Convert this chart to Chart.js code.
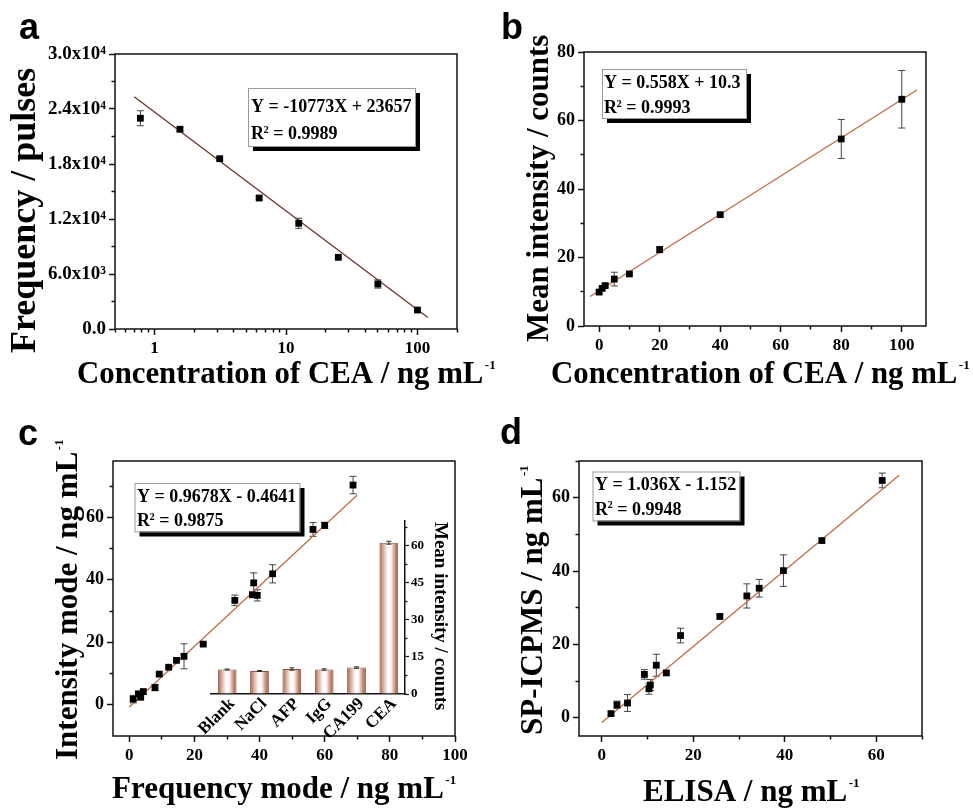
<!DOCTYPE html>
<html lang="en">
<head>
<meta charset="UTF-8" />
<title>SP-ICPMS CEA assay</title>
<script src="https://cdn.jsdelivr.net/npm/chart.js"></script>
<style>
  body { margin: 0; background: #fff; }
  #wrap { position: relative; width: 973px; height: 810px; overflow: hidden; }
  #wrap canvas { position: absolute; left: 0; top: 0; }
</style>
</head>
<body>
<div id="wrap">
  <canvas id="chartA" width="973" height="810"></canvas>
  <canvas id="chartB" width="973" height="810"></canvas>
  <canvas id="chartC" width="973" height="810"></canvas>
  <canvas id="chartInset" width="973" height="810"></canvas>
  <canvas id="chartD" width="973" height="810"></canvas>
</div>
<script>
const W = 973, H = 810;
const SERIF = '"Liberation Serif", "Times New Roman", serif';
const SANS = '"Liberation Sans", Arial, sans-serif';

// panel a - frequency vs CEA concentration (log axis)
const aConc = [0.78, 1.56, 3.13, 6.25, 12.5, 25, 50, 100];
const aFreq = [22990, 21790, 18580, 14290, 11530, 7820, 4910, 2070];
const aErr = [820, 200, 150, 150, 550, 120, 450, 120];
const aFitX = [0.7, 120];
const aFitY = [25330, 1250];
const aXTicks = [1, 10, 100];
const aXLabels = ['1', '10', '100'];
const aXMinor = [0.5, 0.6, 0.7, 0.8, 0.9, 2, 3, 4, 5, 6, 7, 8, 9, 20, 30, 40, 50, 60, 70, 80, 90, 200];
const aYTicks = [0, 6000, 12000, 18000, 24000, 30000];
const aYLabels = ['0.0', '6.0x10³', '1.2x10⁴', '1.8x10⁴', '2.4x10⁴', '3.0x10⁴'];
const aYMinor = [3000, 9000, 15000, 21000, 27000];

// panel b - mean intensity vs CEA concentration
const bConc = [0, 1, 2, 5, 10, 20, 40, 80, 100];
const bInt = [9.9, 11.0, 11.8, 13.7, 15.2, 22.3, 32.5, 54.6, 66.2];
const bErr = [0.5, 0.5, 0.5, 2.0, 0.4, 0.9, 0.4, 5.7, 8.4];
const bFitX = [-3, 105];
const bFitY = [8.6, 68.9];
const bXTicks = [0, 20, 40, 60, 80, 100];
const bXMinor = [10, 30, 50, 70, 90];
const bYTicks = [0, 20, 40, 60, 80];
const bYMinor = [10, 30, 50, 70];

// panel c - intensity mode vs frequency mode
const cFreq = [1.2, 2.8, 3.5, 4.3, 7.9, 9.2, 12.1, 14.5, 16.8, 22.7, 32.4, 37.8, 38.2, 39.3, 44.0, 56.4, 60.0, 68.7];
const cInt = [1.8, 3.5, 2.4, 4.2, 5.5, 9.8, 12.0, 14.2, 15.5, 19.4, 33.4, 35.2, 39.0, 35.0, 41.9, 56.1, 57.4, 70.3];
const cErr = [1.2, 0.5, 0.5, 0.8, 1.0, 0.4, 0.4, 0.4, 4.0, 0.4, 1.7, 0.8, 3.2, 1.8, 2.9, 2.2, 1.0, 2.8];
const cFitX = [0, 70];
const cFitY = [-0.75, 67.1];
const cXTicks = [0, 20, 40, 60, 80, 100];
const cXMinor = [10, 30, 50, 70, 90];
const cYTicks = [0, 20, 40, 60];
const cYMinor = [10, 30, 50, 70];

// panel c inset - selectivity
const insetLabels = ['Blank', 'NaCl', 'AFP', 'IgG', 'CA199', 'CEA'];
const insetVals = [9.9, 9.3, 10.1, 9.9, 10.7, 61.2];
const insetErr = [0.2, 0.2, 0.5, 0.3, 0.3, 0.6];
const insetTicks = [0, 15, 30, 45, 60];
const insetMinor = [7.5, 22.5, 37.5, 52.5, 67.5];

// panel d - SP-ICPMS vs ELISA
const dEli = [2.0, 3.3, 5.6, 9.3, 10.3, 10.6, 11.9, 14.1, 17.2, 25.8, 31.7, 34.4, 39.7, 48.1, 61.3];
const dSp = [1.1, 3.5, 4.0, 11.8, 7.9, 8.9, 14.3, 12.2, 22.4, 27.6, 33.2, 35.3, 40.1, 48.3, 64.7];
const dErr = [0.5, 1.0, 2.3, 1.3, 1.5, 1.5, 3.0, 0.5, 2.0, 0.5, 3.3, 2.4, 4.3, 0.5, 2.0];
const dFitX = [0, 65];
const dFitY = [-1.3, 66.1];
const dXTicks = [0, 20, 40, 60];
const dXMinor = [10, 30, 50, 70];
const dYTicks = [0, 20, 40, 60];
const dYMinor = [10, 30, 50, 70];

function pairs(xs, ys) { return xs.map((x, i) => ({ x: x, y: ys[i] })); }

// text with ^superscript parts
function drawRich(ctx, it) {
  const fam = it.family || SERIF;
  const gap = it.gap === undefined ? 1.5 : it.gap;
  const segs = it.parts.map(s => {
    const sup = s[0] === '^';
    const size = sup ? it.size * (it.supScale || 0.42) : it.size;
    return { t: sup ? s.slice(1) : s, font: 'bold ' + size + 'px ' + fam, rise: sup ? it.size * (it.rise || 0.44) : 0, gap: sup ? gap : 0 };
  });
  ctx.save();
  ctx.translate(it.x, it.y);
  if (it.rot) ctx.rotate(it.rot);
  ctx.fillStyle = '#000';
  ctx.textBaseline = 'alphabetic';
  ctx.textAlign = 'left';
  let total = 0;
  segs.forEach(s => { ctx.font = s.font; s.w = ctx.measureText(s.t).width + s.gap; total += s.w; });
  let cx = it.align === 'center' ? -total / 2 : 0;
  segs.forEach(s => { ctx.font = s.font; ctx.fillText(s.t, cx + s.gap, -s.rise); cx += s.w; });
  ctx.restore();
}

const errPlugin = {
  id: 'errbars',
  draw(chart, o) {
    const ctx = chart.ctx, sx = chart.scales.x, sy = chart.scales.y;
    ctx.save();
    ctx.strokeStyle = o.color;
    ctx.lineWidth = 1;
    for (let i = 0; i < o.x.length; i++) {
      const px = sx.getPixelForValue(o.x[i]);
      const y1 = sy.getPixelForValue(o.y[i] - o.err[i]);
      const y2 = sy.getPixelForValue(o.y[i] + o.err[i]);
      ctx.beginPath();
      ctx.moveTo(px, y1); ctx.lineTo(px, y2);
      ctx.moveTo(px - o.cap, y1); ctx.lineTo(px + o.cap, y1);
      ctx.moveTo(px - o.cap, y2); ctx.lineTo(px + o.cap, y2);
      ctx.stroke();
    }
    ctx.restore();
  },
  beforeDatasetsDraw(chart, args, o) { if (!o.after) this.draw(chart, o); },
  afterDatasetsDraw(chart, args, o) { if (o.after) this.draw(chart, o); }
};

const decorPlugin = {
  id: 'decor',
  afterDraw(chart, args, o) {
    const ctx = chart.ctx, ca = chart.chartArea;
    ctx.save();
    if (o.frame) {
      ctx.strokeStyle = '#111';
      ctx.lineWidth = 1.5;
      ctx.strokeRect(ca.left, ca.top, ca.right - ca.left, ca.bottom - ca.top);
    }
    (o.boxes || []).forEach(b => {
      ctx.fillStyle = '#000';
      ctx.fillRect(b.x + 5, b.y + 5, b.w, b.h);
      ctx.fillStyle = '#fff';
      ctx.fillRect(b.x, b.y, b.w, b.h);
      ctx.strokeStyle = '#9a9a9a';
      ctx.lineWidth = 1;
      ctx.strokeRect(b.x + 0.5, b.y + 0.5, b.w, b.h);
    });
    ctx.restore();
    (o.texts || []).forEach(t => drawRich(ctx, t));
  }
};

function majorScale(axis, s, pos, fixed) {
  return {
    type: s.type || 'linear', axis: axis, position: pos, min: s.min, max: s.max, weight: 1,
    afterBuildTicks: sc => { sc.ticks = s.major.map(v => ({ value: v })); },
    afterFit: sc => { if (axis === 'x') sc.height = fixed; else sc.width = fixed; },
    ticks: {
      autoSkip: false, maxRotation: 0, minRotation: 0, padding: 3, color: '#000',
      font: { family: SERIF, weight: 'bold', size: s.font },
      callback: (v, i) => s.labels[i]
    },
    grid: { drawOnChartArea: false, tickLength: 6, tickWidth: 1.5, tickColor: '#111' },
    border: { display: false }
  };
}

function minorScale(axis, s, pos) {
  return {
    type: s.type || 'linear', axis: axis, position: pos, min: s.min, max: s.max, weight: 0,
    afterBuildTicks: sc => { sc.ticks = s.minor.map(v => ({ value: v })); },
    afterFit: sc => { if (axis === 'x') sc.height = 0; else sc.width = 0; },
    ticks: { display: false },
    grid: { drawOnChartArea: false, tickLength: 3.5, tickWidth: 1.5, tickColor: '#111' },
    border: { display: false }
  };
}

function scatterPanel(id, p) {
  const wy = 80, hx = 44;
  return new Chart(document.getElementById(id), {
    type: 'scatter',
    data: {
      datasets: [
        { data: p.fit, showLine: true, borderColor: p.fitColor, borderWidth: 1.3, pointRadius: 0, order: 2 },
        { data: p.points, pointStyle: 'rect', pointRadius: 4.8, backgroundColor: '#000', borderWidth: 0, order: 1 }
      ]
    },
    options: {
      responsive: false, animation: false, events: [],
      layout: { autoPadding: false, padding: { left: p.area.l - wy, top: p.area.t, right: W - p.area.r, bottom: H - p.area.b - hx } },
      scales: {
        x: majorScale('x', p.x, 'bottom', hx),
        xm: minorScale('x', p.x, 'bottom'),
        y: majorScale('y', p.y, 'left', wy),
        ym: minorScale('y', p.y, 'left')
      },
      plugins: {
        legend: { display: false }, tooltip: { enabled: false },
        errbars: { x: p.err[0], y: p.err[1], err: p.err[2], cap: 3.5, color: '#444' },
        decor: { frame: true, boxes: p.boxes, texts: p.texts }
      }
    },
    plugins: [errPlugin, decorPlugin]
  });
}

const UP = -Math.PI / 2;
const R2 = { supScale: 0.58, rise: 0.36, gap: -0.5 };

scatterPanel('chartA', {
  area: { l: 115, t: 54, r: 457, b: 329 },
  x: { type: 'logarithmic', min: 0.5, max: 200, major: aXTicks, labels: aXLabels, minor: aXMinor, font: 17 },
  y: { min: 0, max: 30000, major: aYTicks, labels: aYLabels, minor: aYMinor, font: 19 },
  points: pairs(aConc, aFreq), err: [aConc, aFreq, aErr],
  fit: pairs(aFitX, aFitY), fitColor: '#6b3326',
  boxes: [{ x: 248, y: 88, w: 167, h: 58 }],
  texts: [
    { x: 251, y: 112, size: 18, parts: ['Y = -10773X + 23657'] },
    Object.assign({ x: 251, y: 139, size: 18, parts: ['R', '^2', ' = 0.9989'] }, R2),
    { x: 19, y: 39, size: 36, family: SANS, parts: ['a'] },
    { x: 77, y: 383, size: 30.8, parts: ['Concentration of CEA / ng mL', '^-1'] },
    { x: 35, y: 353, size: 36, rot: UP, parts: ['Frequency / pulses'] }
  ]
});

scatterPanel('chartB', {
  area: { l: 584, t: 52, r: 926, b: 326 },
  x: { min: -5, max: 108, major: bXTicks, labels: bXTicks.map(String), minor: bXMinor, font: 17 },
  y: { min: 0, max: 80, major: bYTicks, labels: bYTicks.map(String), minor: bYMinor, font: 18 },
  points: pairs(bConc, bInt), err: [bConc, bInt, bErr],
  fit: pairs(bFitX, bFitY), fitColor: '#c46a3f',
  boxes: [{ x: 602, y: 69, w: 144, h: 49 }],
  texts: [
    { x: 604, y: 88, size: 18, parts: ['Y = 0.558X + 10.3'] },
    Object.assign({ x: 604, y: 113, size: 18, parts: ['R', '^2', ' = 0.9993'] }, R2),
    { x: 501, y: 39, size: 36, family: SANS, parts: ['b'] },
    { x: 551, y: 383, size: 30.8, parts: ['Concentration of CEA / ng mL', '^-1'] },
    { x: 548, y: 342, size: 31, rot: UP, parts: ['Mean intensity / counts'] }
  ]
});

scatterPanel('chartC', {
  area: { l: 113, t: 461, r: 455, b: 736 },
  x: { min: -5, max: 100, major: cXTicks, labels: cXTicks.map(String), minor: cXMinor, font: 17 },
  y: { min: -10, max: 78, major: cYTicks, labels: cYTicks.map(String), minor: cYMinor, font: 18 },
  points: pairs(cFreq, cInt), err: [cFreq, cInt, cErr],
  fit: pairs(cFitX, cFitY), fitColor: '#c46a3f',
  boxes: [{ x: 134.5, y: 483, w: 165, h: 48.5 }],
  texts: [
    { x: 137, y: 501.5, size: 18, parts: ['Y = 0.9678X - 0.4641'] },
    Object.assign({ x: 137, y: 526, size: 18, parts: ['R', '^2', ' = 0.9875'] }, R2),
    { x: 18, y: 445, size: 36, family: SANS, parts: ['c'] },
    { x: 112, y: 798, size: 31, parts: ['Frequency mode / ng mL', '^-1'] },
    { x: 77, y: 760, size: 31, rot: UP, parts: ['Intensity mode / ng mL', '^-1'] }
  ]
});

scatterPanel('chartD', {
  area: { l: 579, t: 461, r: 922, b: 736 },
  x: { min: -5, max: 70, major: dXTicks, labels: dXTicks.map(String), minor: dXMinor, font: 17 },
  y: { min: -5, max: 70, major: dYTicks, labels: dYTicks.map(String), minor: dYMinor, font: 18 },
  points: pairs(dEli, dSp), err: [dEli, dSp, dErr],
  fit: pairs(dFitX, dFitY), fitColor: '#c46a3f',
  boxes: [{ x: 592.5, y: 471.5, w: 147, h: 49 }],
  texts: [
    { x: 595, y: 490, size: 18, parts: ['Y = 1.036X - 1.152'] },
    Object.assign({ x: 595, y: 514.5, size: 18, parts: ['R', '^2', ' = 0.9948'] }, R2),
    { x: 500, y: 444, size: 36, family: SANS, parts: ['d'] },
    { x: 643, y: 801, size: 31, parts: ['ELISA / ng mL', '^-1'] },
    { x: 542, y: 735, size: 31, rot: UP, parts: ['SP-ICPMS / ng mL', '^-1'] }
  ]
});

// inset bar chart inside panel c
const inArea = { l: 211, t: 521, r: 405, b: 694 };
const barPct = 0.58;
new Chart(document.getElementById('chartInset'), {
  type: 'bar',
  data: {
    labels: insetLabels,
    datasets: [{
      data: insetVals,
      categoryPercentage: 1, barPercentage: barPct,
      borderColor: '#93523f', borderWidth: 1,
      backgroundColor: c => {
        const ch = c.chart;
        if (!ch.chartArea || c.type !== 'data') return '#c8927f';
        const sx = ch.scales.x;
        const cx = sx.getPixelForValue(c.dataIndex);
        const half = sx.width / insetLabels.length * barPct / 2;
        const g = ch.ctx.createLinearGradient(cx - half, 0, cx + half, 0);
        g.addColorStop(0, '#9c5641');
        g.addColorStop(0.18, '#d2a797');
        g.addColorStop(0.45, '#ffffff');
        g.addColorStop(0.62, '#fbf2ef');
        g.addColorStop(0.85, '#c18670');
        g.addColorStop(1, '#9c5641');
        return g;
      }
    }]
  },
  options: {
    responsive: false, animation: false, events: [],
    layout: { autoPadding: false, padding: { left: inArea.l, top: inArea.t, right: W - inArea.r - 30, bottom: H - inArea.b - 50 } },
    scales: {
      x: {
        position: 'bottom',
        afterFit: sc => { sc.height = 50; },
        grid: { display: false },
        border: { display: true, color: '#111', width: 1.5 },
        ticks: { autoSkip: false, minRotation: 45, maxRotation: 45, padding: -8, labelOffset: 5, color: '#000', font: { family: SERIF, weight: 'bold', size: 17 } }
      },
      y: {
        position: 'right', min: 0, max: 70, weight: 1,
        afterBuildTicks: sc => { sc.ticks = insetTicks.map(v => ({ value: v })); },
        afterFit: sc => { sc.width = 30; },
        grid: { drawOnChartArea: false, tickLength: 4, tickWidth: 1.2, tickColor: '#111' },
        border: { display: true, color: '#111', width: 1.5 },
        ticks: { padding: 2, color: '#000', font: { family: SERIF, weight: 'bold', size: 13 } }
      },
      ym: {
        axis: 'y', position: 'right', min: 0, max: 70, weight: 0,
        afterBuildTicks: sc => { sc.ticks = insetMinor.map(v => ({ value: v })); },
        afterFit: sc => { sc.width = 0; },
        grid: { drawOnChartArea: false, tickLength: 2.5, tickWidth: 1.2, tickColor: '#111' },
        ticks: { display: false },
        border: { display: false }
      }
    },
    plugins: {
      legend: { display: false }, tooltip: { enabled: false },
      errbars: { x: insetLabels.map((l, i) => i), y: insetVals, err: insetErr, cap: 2.5, color: '#333', after: true },
      decor: { frame: false, texts: [
        { x: 435, y: 522, size: 19, rot: Math.PI / 2, parts: ['Mean intensity / counts'] }
      ] }
    }
  },
  plugins: [errPlugin, decorPlugin]
});
</script>
</body>
</html>
